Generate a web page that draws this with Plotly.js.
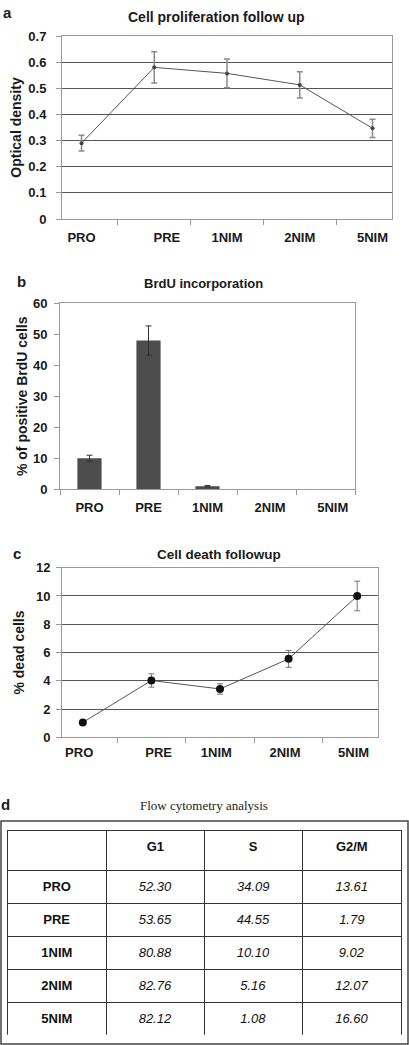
<!DOCTYPE html>
<html>
<head>
<meta charset="utf-8">
<script src="https://cdn.plot.ly/plotly-3.0.1.min.js"></script>
<style>html,body{margin:0;padding:0;background:#fff;}#chart{width:409px;height:1045px;}</style>
</head>
<body>
<div id="chart"></div>
<script>
// ---- data ----
var categories = ["PRO", "PRE", "1NIM", "2NIM", "5NIM"];
var NB = "\u00a0";
var tickLabelsA = ["PRO", NB + NB + NB + NB + NB + NB + NB + "PRE", "1NIM", "2NIM", "5NIM"];
var tickLabelsB = ["PRO", "PRE", "1NIM", NB + NB + "2NIM", NB + NB + NB + NB + "5NIM"];
var tickLabelsC = ["PRO" + NB + NB, NB + NB + NB + NB + "PRE", "1NIM" + NB + NB, "2NIM" + NB + NB, "5NIM" + NB + NB];

var odValues = [0.29, 0.58, 0.557, 0.513, 0.347];
var odErrors = [0.03, 0.06, 0.055, 0.05, 0.035];

var brduValues = [10, 48, 1, 0, 0];
var brduErrors = [1, 4.7, 0.2, NaN, NaN];

var deadValues = [1.05, 4.02, 3.42, 5.55, 10.0];
var deadErrors = [NaN, 0.47, 0.37, 0.6, 1.05];

var phaseNames = ["G1", "S", "G2/M"];
var g1Values = [52.30, 53.65, 80.88, 82.76, 82.12];
var sValues = [34.09, 44.55, 10.10, 5.16, 1.08];
var g2mValues = [13.61, 1.79, 9.02, 12.07, 16.60];

// ---- helpers ----
var W = 409, H = 1045;
function px(x) { return x / W; }
function py(y) { return 1 - y / H; }
var FONT = "Liberation Sans, Arial, sans-serif";
var tickFont = {family: FONT, size: 13, color: "#1a1a1a", weight: "bold"};

function italicCol(arr) { return arr.map(function (v) { return "<i>" + v.toFixed(2) + "</i>"; }); }
function boldCol(arr) { return arr.map(function (v) { return "<b>" + v + "</b>"; }); }

var traces = [
  {
    type: "scatter", mode: "lines+markers", x: categories, y: odValues,
    xaxis: "x", yaxis: "y",
    line: {color: "#555", width: 1},
    marker: {color: "#444", size: 4},
    error_y: {type: "data", array: odErrors, visible: true, color: "#8a8a8a", thickness: 1.5, width: 3}
  },
  {
    type: "bar", x: categories, y: brduValues,
    xaxis: "x2", yaxis: "y2",
    marker: {color: "#4d4d4d", line: {color: "#333", width: 0}},
    error_y: {type: "data", array: brduErrors, visible: true, color: "#333", thickness: 1, width: 3}
  },
  {
    type: "scatter", mode: "lines+markers", x: categories, y: deadValues,
    xaxis: "x3", yaxis: "y3",
    line: {color: "#555", width: 1},
    marker: {color: "#111", size: 8},
    error_y: {type: "data", array: deadErrors, visible: true, color: "#777", thickness: 1, width: 3}
  },
  {
    type: "table",
    domain: {x: [px(7.3), px(401.7)], y: [py(1035), py(830.7)]},
    columnwidth: [99, 98, 98, 99],
    header: {
      values: [""].concat(phaseNames.map(function (p) { return "<b>" + p + "</b>"; })),
      height: 40,
      align: "center",
      line: {color: "#333", width: 1},
      fill: {color: "#fff"},
      font: {family: FONT, size: 13, color: "#111"}
    },
    cells: {
      values: [boldCol(categories), italicCol(g1Values), italicCol(sValues), italicCol(g2mValues)],
      height: 33,
      align: "center",
      line: {color: "#333", width: 1},
      fill: {color: "#fff"},
      font: {family: FONT, size: 13, color: "#111"}
    }
  }
];

function xAxis(domain, anchor, labels, standoff) {
  return {
    domain: domain, anchor: anchor, type: "category",
    tickvals: categories, ticktext: labels,
    tickson: "boundaries", ticks: "outside", ticklen: 5, tickcolor: "#999", tickwidth: 1,
    ticklabelstandoff: standoff,
    showline: true, linecolor: "#999", linewidth: 1, mirror: true,
    showgrid: false, zeroline: false,
    tickfont: tickFont, automargin: false, fixedrange: true
  };
}
function yAxis(domain, anchor, range, dtick, grid, title, labelStandoff, titleStandoff) {
  return {
    domain: domain, anchor: anchor, range: range, dtick: dtick,
    ticks: "outside", ticklen: 5, tickcolor: "#999",
    ticklabelstandoff: labelStandoff,
    showline: true, linecolor: "#999", linewidth: 1, mirror: true,
    showgrid: grid, gridcolor: "#555", gridwidth: 1, zeroline: false,
    tickfont: tickFont, automargin: false, fixedrange: true,
    title: {text: title, font: {family: FONT, size: 14, color: "#1a1a1a", weight: "bold"}, standoff: titleStandoff}
  };
}

function label(text, x, y, size, family) {
  return {text: text, x: px(x), y: py(y), xref: "paper", yref: "paper", xanchor: "center", yanchor: "middle",
          showarrow: false, font: {family: family || FONT, size: size, color: "#1a1a1a"}};
}

var layout = {
  width: W, height: H,
  margin: {l: 0, r: 0, t: 0, b: 0},
  paper_bgcolor: "#fff", plot_bgcolor: "#fff",
  showlegend: false,
  bargap: 0.59,
  font: {family: FONT, color: "#1a1a1a"},
  xaxis: xAxis([px(62), px(392)], "y", tickLabelsA, 6),
  yaxis: yAxis([py(219), py(36)], "x", [0, 0.7], 0.1, true, "Optical density", 7, 3),
  xaxis2: xAxis([px(60), px(355)], "y2", tickLabelsB, 6),
  yaxis2: yAxis([py(489.3), py(303.3)], "x2", [0, 60], 10, false, "% of positive BrdU cells", 4, 2),
  xaxis3: xAxis([px(62), px(378)], "y3", tickLabelsC, 3),
  yaxis3: yAxis([py(737.3), py(567.7)], "x3", [0, 12], 2, true, "% dead cells", 3, 8),
  annotations: [
    label("<b>a</b>", 7, 13, 15),
    label("<b>b</b>", 21, 281, 15),
    label("<b>c</b>", 17, 553, 15),
    label("<b>d</b>", 5, 804, 15),
    label("<b>Cell proliferation follow up</b>", 217, 17, 14),
    label("<b>BrdU incorporation</b>", 203, 283, 13),
    label("<b>Cell death followup</b>", 219, 554, 13.5),
    label("Flow cytometry analysis", 204, 805.5, 13, "Liberation Serif, Times New Roman, serif")
  ],
  shapes: [
    {type: "rect", xref: "paper", yref: "paper", x0: px(1), x1: px(408), y0: py(1044), y1: py(821), line: {color: "#444", width: 1.5}}
  ]
};

Plotly.newPlot("chart", traces, layout, {staticPlot: true, displayModeBar: false});
</script>
</body>
</html>
